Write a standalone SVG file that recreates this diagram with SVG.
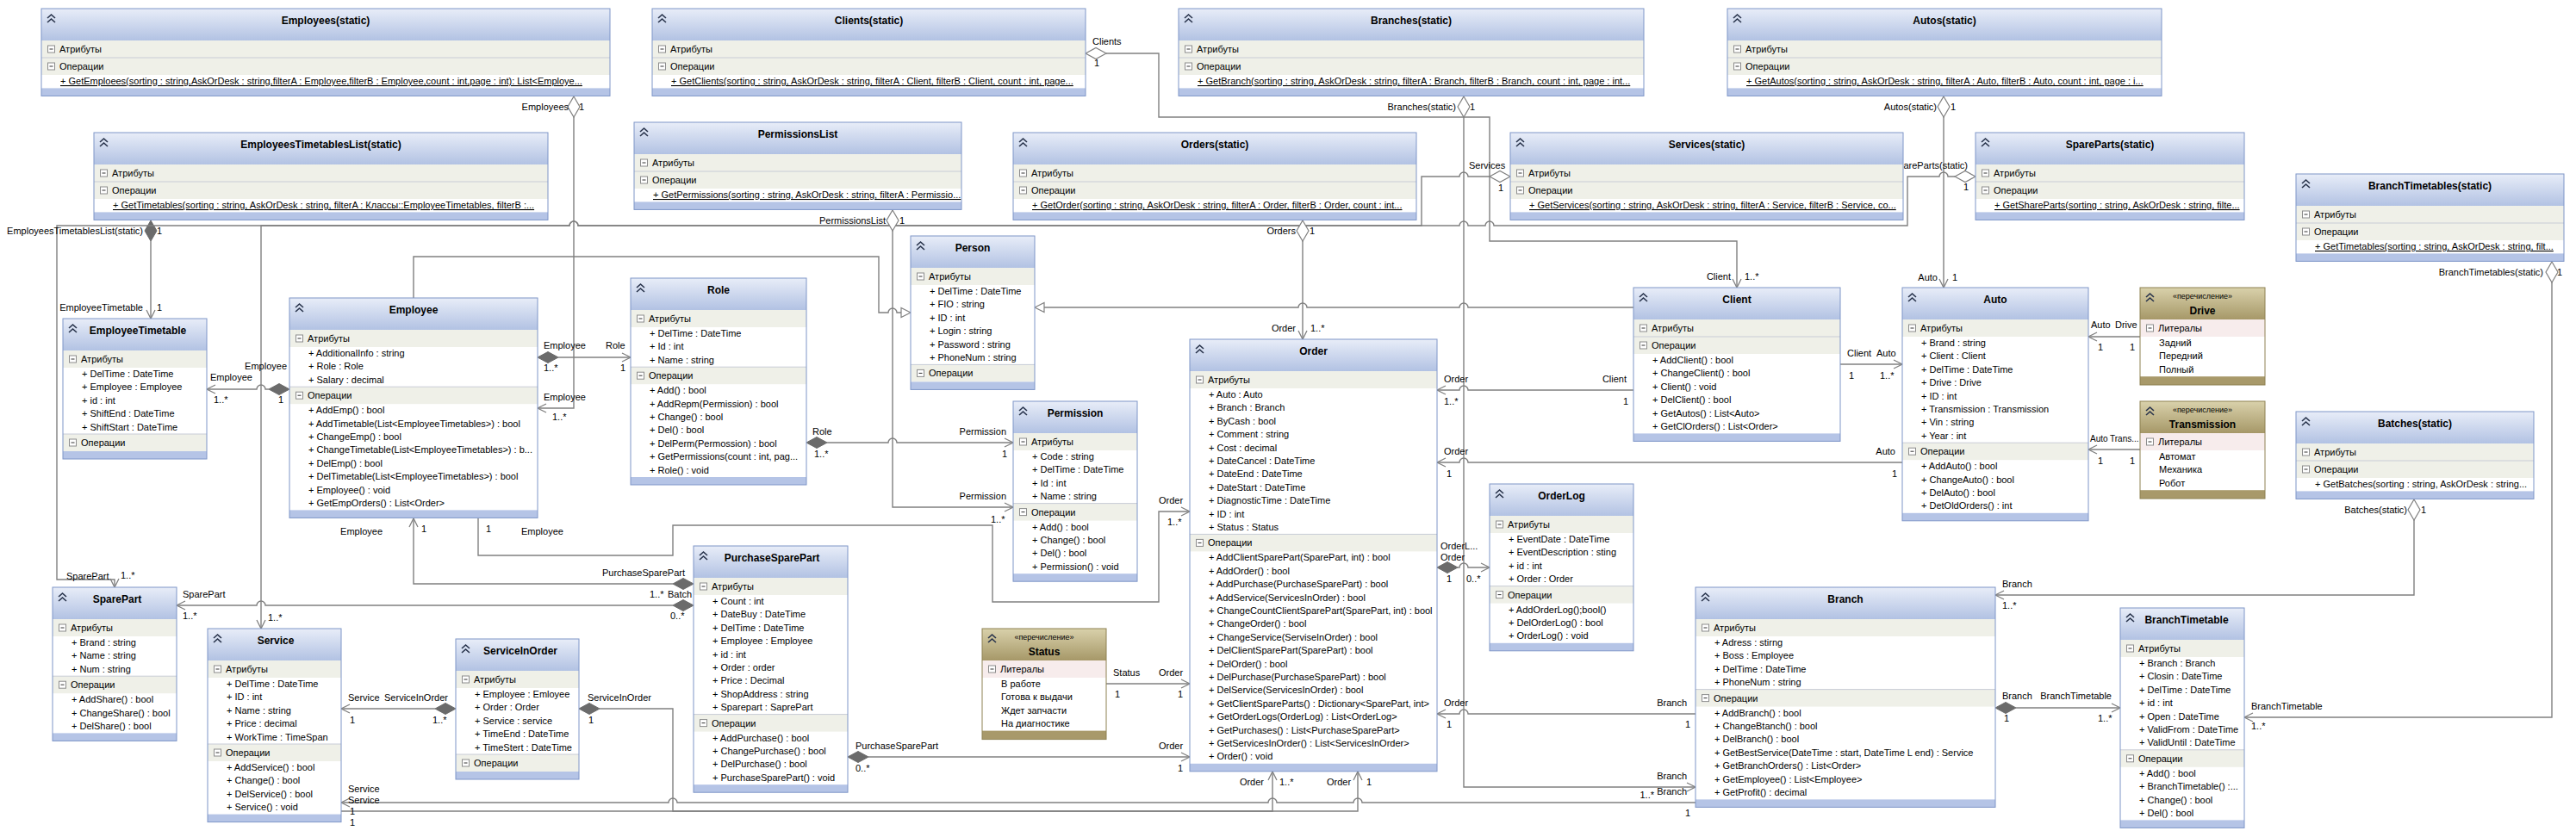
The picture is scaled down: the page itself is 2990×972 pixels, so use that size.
<svg xmlns="http://www.w3.org/2000/svg" xmlns:xlink="http://www.w3.org/1999/xlink" width="2990" height="972" viewBox="0 0 2990 972">
<style>
.bg{fill:#fff}
.hd{fill:url(#gh)}
.rw{fill:#eff0e8}
.bar{fill:#b5c4e6}
.fr{fill:none;stroke:#7f96c8;stroke-width:1}
.sep{stroke:#c8ccd6;stroke-width:1}
.ehd{fill:url(#ge)}
.erw{fill:#f7ecec}
.ebar{fill:#a8996a}
.efr{fill:none;stroke:#8e8152;stroke-width:1}
text{font-family:"Liberation Sans",Arial,sans-serif;font-size:11px;fill:#000}
.t{font-weight:bold;font-size:12px;text-anchor:middle}
.st{font-size:9px;text-anchor:middle}
.u{text-decoration:underline}
.e{text-anchor:end}
.s10{font-size:10px}
.cn{fill:none;stroke:#808080;stroke-width:1.4}
.dh{fill:#fff;stroke:#808080;stroke-width:1.2}
.df{fill:#6b6b6b;stroke:#6b6b6b;stroke-width:1}
</style>
<defs>
<linearGradient id="gh" x1="0" y1="0" x2="0" y2="1"><stop offset="0" stop-color="#e8edf8"/><stop offset="1" stop-color="#b2c2e3"/></linearGradient>
<linearGradient id="ge" x1="0" y1="0" x2="0" y2="1"><stop offset="0" stop-color="#d9d1ab"/><stop offset="1" stop-color="#a69868"/></linearGradient>
<g id="cv"><path d="M1,6 L5.5,2 L10,6 M1,11 L5.5,7 L10,11" fill="none" stroke="#27324a" stroke-width="1.6"/></g>
<g id="mi"><rect x="0.5" y="0.5" width="8" height="8" fill="#fff" stroke="#8c8c8c"/><line x1="2.5" y1="4.5" x2="6.5" y2="4.5" stroke="#333"/></g>
<marker id="ar" markerWidth="12" markerHeight="12" refX="10" refY="5" orient="auto" markerUnits="userSpaceOnUse" overflow="visible"><path d="M0,0 L10,5 L0,10" fill="none" stroke="#808080" stroke-width="1.3"/></marker>
</defs>
<rect x="0" y="0" width="2990" height="972" fill="#fff"/>

<!-- connectors -->
<g id="connectors">
<path class="cn" d="M666,136 V474 H624" marker-end="url(#ar)"/>
<polygon class="dh" points="666,112 673,124 666,136 659,124"/>
<path class="cn" d="M175,280 V370" marker-end="url(#ar)"/>
<polygon class="df" points="175,256 182,268 175,280 168,268"/>
<path class="cn" d="M312,452 H308 a5,5 0 0 0 -10,0 H240" marker-end="url(#ar)"/>
<polygon class="df" points="336,452 324,445.5 312,452 324,458.5"/>
<path class="cn" d="M648,415 H732" marker-end="url(#ar)"/>
<polygon class="df" points="624,415 636,408.5 648,415 636,421.5"/>
<path class="cn" d="M480,346 V298 H1020 V363 H1031 a5,5 0 0 1 10,0 H1046"/>
<polygon class="dh" points="1057,363 1046,357.5 1046,368.5"/>
<path class="cn" d="M1896,357 H1704 a5,5 0 0 0 -10,0 H1517 a5,5 0 0 0 -10,0 H1212"/>
<polygon class="dh" points="1201,357 1212,351.5 1212,362.5"/>
<path class="cn" d="M1284,62 H1345 V136 H1729 V280 H2016 V334" marker-end="url(#ar)"/>
<polygon class="dh" points="1260,62 1272,55.5 1284,62 1272,68.5"/>
<path class="cn" d="M1699,136 V914 H1968" marker-end="url(#ar)"/>
<polygon class="dh" points="1699,112 1706,124 1699,136 1692,124"/>
<path class="cn" d="M1729,205 H1704 a5,5 0 0 0 -10,0 H1650 V262 H671 a5,5 0 0 0 -10,0 H303 V730" marker-end="url(#ar)"/>
<polygon class="dh" points="1753,205 1741,198.5 1729,205 1741,211.5"/>
<path class="cn" d="M2269,205 H2261 a5,5 0 0 0 -10,0 H2214 V262 H1734 a5,5 0 0 0 -10,0 H1704 a5,5 0 0 0 -10,0 H671 a5,5 0 0 0 -10,0 H66 V673 H133 V682" marker-end="url(#ar)"/>
<polygon class="dh" points="2293,205 2281,198.5 2269,205 2281,211.5"/>
<path class="cn" d="M2256,136 V334" marker-end="url(#ar)"/>
<polygon class="dh" points="2256,112 2263,124 2256,136 2249,124"/>
<path class="cn" d="M1512,280 V394" marker-end="url(#ar)"/>
<polygon class="dh" points="1512,256 1519,268 1512,280 1505,268"/>
<path class="cn" d="M1036,268 V589 H1176" marker-end="url(#ar)"/>
<polygon class="dh" points="1036,244 1043,256 1036,268 1029,256"/>
<path class="cn" d="M960,514 H1031 a5,5 0 0 1 10,0 H1176" marker-end="url(#ar)"/>
<polygon class="df" points="936,514 948,507.5 960,514 948,520.5"/>
<path class="cn" d="M555,602 V645 H781 V610 H1152 V699 H1345 V594 H1381" marker-end="url(#ar)"/>
<path class="cn" d="M781,678 H480 V602" marker-end="url(#ar)"/>
<polygon class="df" points="805,678 793,671.5 781,678 793,684.5"/>
<path class="cn" d="M781,703 H308 a5,5 0 0 0 -10,0 H205" marker-end="url(#ar)"/>
<polygon class="df" points="805,703 793,696.5 781,703 793,709.5"/>
<path class="cn" d="M1008,879 H1381" marker-end="url(#ar)"/>
<polygon class="df" points="984,879 996,872.5 1008,879 996,885.5"/>
<path class="cn" d="M1284,794 H1381" marker-end="url(#ar)"/>
<path class="cn" d="M1896,453 H1704 a5,5 0 0 0 -10,0 H1668" marker-end="url(#ar)"/>
<path class="cn" d="M2208,537 H1704 a5,5 0 0 0 -10,0 H1668" marker-end="url(#ar)"/>
<path class="cn" d="M2136,423 H2208" marker-end="url(#ar)"/>
<path class="cn" d="M2484,391 H2424" marker-end="url(#ar)"/>
<path class="cn" d="M2484,522 H2424" marker-end="url(#ar)"/>
<path class="cn" d="M1692,659 H1694 a5,5 0 0 1 10,0 H1729" marker-end="url(#ar)"/>
<polygon class="df" points="1668,659 1680,652.5 1692,659 1680,665.5"/>
<path class="cn" d="M1968,829 H1704 a5,5 0 0 0 -10,0 H1668" marker-end="url(#ar)"/>
<path class="cn" d="M2802,604 V691 H2316" marker-end="url(#ar)"/>
<polygon class="dh" points="2802,580 2809,592 2802,604 2795,592"/>
<path class="cn" d="M2340,822 H2461" marker-end="url(#ar)"/>
<polygon class="df" points="2316,822 2328,815.5 2340,822 2328,828.5"/>
<path class="cn" d="M2962,328 V833 H2605" marker-end="url(#ar)"/>
<polygon class="dh" points="2962,304 2969,316 2962,328 2955,316"/>
<path class="cn" d="M505,823 H396" marker-end="url(#ar)"/>
<polygon class="df" points="529,823 517,816.5 505,823 517,829.5"/>
<path class="cn" d="M696,823 H781 V942 H1477 V896" marker-end="url(#ar)"/>
<polygon class="df" points="672,823 684,816.5 696,823 684,829.5"/>
<path class="cn" d="M1968,932 H1581 a5,5 0 0 0 -10,0 H1482 a5,5 0 0 0 -10,0 H786 a5,5 0 0 0 -10,0 H396" marker-end="url(#ar)"/>
<path class="cn" d="M396,942 H1576 V896" marker-end="url(#ar)"/>
</g>

<!-- connector labels -->
<g id="connector-labels">
<text class="e" x="660" y="128">Employees</text><text x="672" y="128">1</text>
<text x="631" y="465">Employee</text><text x="641" y="488">1..*</text>
<text class="e" x="166" y="272">EmployeesTimetablesList(static)</text><text x="182" y="272">1</text>
<text class="e" x="166" y="361">EmployeeTimetable</text><text x="182" y="361">1</text>
<text x="244" y="442">Employee</text><text class="e" x="333" y="429">Employee</text>
<text x="248" y="468">1..*</text><text x="323" y="468">1</text>
<text x="631" y="405">Employee</text><text x="703" y="405">Role</text>
<text x="631" y="431">1..*</text><text x="720" y="431">1</text>
<text x="1268" y="52">Clients</text><text x="1270" y="77">1</text>
<text class="e" x="2009" y="325">Client</text><text x="2025" y="325">1..*</text>
<text class="e" x="1690" y="128">Branches(static)</text><text x="1706" y="128">1</text>
<text class="e" x="1958" y="905">Branch</text><text class="e" x="1920" y="927">1..*</text>
<text x="1705" y="196">Services</text><text x="1739" y="222">1</text>
<text x="311" y="721">1..*</text>
<text class="e" x="2284" y="196">ShareParts(static)</text><text x="2279" y="221">1</text>
<text x="77" y="673">SparePart</text><text x="140" y="672">1..*</text>
<text class="e" x="2248" y="128">Autos(static)</text><text x="2264" y="128">1</text>
<text class="e" x="2249" y="326">Auto</text><text x="2266" y="326">1</text>
<text class="e" x="1504" y="272">Orders</text><text x="1520" y="272">1</text>
<text class="e" x="1504" y="385">Order</text><text x="1521" y="385">1..*</text>
<text class="e" x="1028" y="260">PermissionsList</text><text x="1044" y="260">1</text>
<text class="e" x="1168" y="580">Permission</text><text x="1150" y="607">1..*</text>
<text x="943" y="505">Role</text><text x="945" y="531">1..*</text>
<text class="e" x="1168" y="505">Permission</text><text x="1163" y="531">1</text>
<text x="564" y="618">1</text><text x="605" y="621">Employee</text>
<text x="1345" y="585">Order</text><text x="1355" y="610">1..*</text>
<text class="e" x="795" y="669">PurchaseSparePart</text><text x="754" y="694">1..*</text>
<text class="e" x="444" y="621">Employee</text><text x="489" y="618">1</text>
<text x="775" y="694">Batch</text><text x="778" y="719">0..*</text>
<text x="212" y="694">SparePart</text><text x="212" y="719">1..*</text>
<text x="993" y="870">PurchaseSparePart</text><text x="993" y="896">0..*</text>
<text x="1345" y="870">Order</text><text x="1367" y="896">1</text>
<text x="1292" y="785">Status</text><text x="1294" y="810">1</text>
<text x="1345" y="785">Order</text><text x="1367" y="810">1</text>
<text class="e" x="1888" y="444">Client</text><text x="1884" y="470">1</text>
<text x="1676" y="444">Order</text><text x="1676" y="470">1..*</text>
<text class="e" x="2200" y="528">Auto</text><text x="2196" y="554">1</text>
<text x="1676" y="528">Order</text><text x="1679" y="554">1</text>
<text x="2144" y="414">Client</text><text x="2178" y="414">Auto</text>
<text x="2146" y="440">1</text><text x="2182" y="440">1..*</text>
<text x="2427" y="381">Auto</text><text x="2455" y="381">Drive</text>
<text x="2435" y="407">1</text><text x="2472" y="407">1</text>
<text class="s10" x="2426" y="513">Auto</text><text class="s10" x="2449" y="513">Trans...</text>
<text x="2435" y="539">1</text><text x="2472" y="539">1</text>
<text x="1672" y="651">Order</text><text x="1672" y="638">OrderL...</text>
<text x="1679" y="676">1</text><text x="1702" y="676">0..*</text>
<text class="e" x="1958" y="820">Branch</text><text x="1956" y="845">1</text>
<text x="1676" y="820">Order</text><text x="1679" y="845">1</text>
<text class="e" x="2794" y="596">Batches(static)</text><text x="2810" y="596">1</text>
<text x="2324" y="682">Branch</text><text x="2324" y="707">1..*</text>
<text x="2324" y="812">Branch</text><text x="2326" y="838">1</text>
<text class="e" x="2451" y="812">BranchTimetable</text><text x="2435" y="838">1..*</text>
<text class="e" x="2952" y="320">BranchTimetables(static)</text><text x="2968" y="320">1</text>
<text x="2613" y="824">BranchTimetable</text><text x="2613" y="847">1..*</text>
<text x="404" y="814">Service</text><text x="406" y="840">1</text>
<text class="e" x="520" y="814">ServiceInOrder</text><text x="502" y="840">1..*</text>
<text x="682" y="814">ServiceInOrder</text><text x="683" y="840">1</text>
<text class="e" x="1467" y="912">Order</text><text x="1485" y="912">1..*</text>
<text x="404" y="920">Service</text><text x="406" y="946">1</text>
<text class="e" x="1958" y="923">Branch</text><text x="1956" y="948">1</text>
<text x="404" y="933">Service</text><text x="406" y="959">1</text>
<text x="1540" y="912">Order</text><text x="1586" y="912">1</text>
</g>

<!-- static classes -->
<g id="employees-static">
<rect class="bg" x="48" y="10" width="660" height="101.4"/><rect class="hd" x="48" y="10" width="660" height="37"/>
<rect class="rw" x="48" y="47" width="660" height="40"/><line class="sep" x1="48" y1="67" x2="708" y2="67"/>
<rect class="bar" x="48" y="102.4" width="660" height="9"/><rect class="fr" x="48" y="10" width="660" height="101.4"/>
<use href="#cv" x="54" y="15"/><text class="t" x="378" y="28">Employees(static)</text>
<use href="#mi" x="55" y="52.5"/><text x="69" y="61">Атрибуты</text>
<use href="#mi" x="55" y="72.5"/><text x="69" y="81">Операции</text>
<text class="u" x="70" y="98">+ GetEmploees(sorting : string,AskOrDesk : string,filterA : Employee,filterB : Employee,count : int,page : int): List&lt;Employe...</text>
</g>
<g id="clients-static">
<rect class="bg" x="757" y="10" width="503" height="101.4"/><rect class="hd" x="757" y="10" width="503" height="37"/>
<rect class="rw" x="757" y="47" width="503" height="40"/><line class="sep" x1="757" y1="67" x2="1260" y2="67"/>
<rect class="bar" x="757" y="102.4" width="503" height="9"/><rect class="fr" x="757" y="10" width="503" height="101.4"/>
<use href="#cv" x="763" y="15"/><text class="t" x="1008.5" y="28">Clients(static)</text>
<use href="#mi" x="764" y="52.5"/><text x="778" y="61">Атрибуты</text>
<use href="#mi" x="764" y="72.5"/><text x="778" y="81">Операции</text>
<text class="u" x="779" y="98">+ GetClients(sorting : string, AskOrDesk : string, filterA : Client, filterB : Client, count : int, page...</text>
</g>
<g id="branches-static">
<rect class="bg" x="1368" y="10" width="540" height="101.4"/><rect class="hd" x="1368" y="10" width="540" height="37"/>
<rect class="rw" x="1368" y="47" width="540" height="40"/><line class="sep" x1="1368" y1="67" x2="1908" y2="67"/>
<rect class="bar" x="1368" y="102.4" width="540" height="9"/><rect class="fr" x="1368" y="10" width="540" height="101.4"/>
<use href="#cv" x="1374" y="15"/><text class="t" x="1638" y="28">Branches(static)</text>
<use href="#mi" x="1375" y="52.5"/><text x="1389" y="61">Атрибуты</text>
<use href="#mi" x="1375" y="72.5"/><text x="1389" y="81">Операции</text>
<text class="u" x="1390" y="98">+ GetBranch(sorting : string, AskOrDesk : string, filterA : Branch, filterB : Branch, count : int, page : int...</text>
</g>
<g id="autos-static">
<rect class="bg" x="2005" y="10" width="504" height="101.4"/><rect class="hd" x="2005" y="10" width="504" height="37"/>
<rect class="rw" x="2005" y="47" width="504" height="40"/><line class="sep" x1="2005" y1="67" x2="2509" y2="67"/>
<rect class="bar" x="2005" y="102.4" width="504" height="9"/><rect class="fr" x="2005" y="10" width="504" height="101.4"/>
<use href="#cv" x="2011" y="15"/><text class="t" x="2257" y="28">Autos(static)</text>
<use href="#mi" x="2012" y="52.5"/><text x="2026" y="61">Атрибуты</text>
<use href="#mi" x="2012" y="72.5"/><text x="2026" y="81">Операции</text>
<text class="u" x="2027" y="98">+ GetAutos(sorting : string, AskOrDesk : string, filterA : Auto, filterB : Auto, count : int, page : i...</text>
</g>
<g id="employeestimetableslist-static">
<rect class="bg" x="109" y="154" width="527" height="101.4"/><rect class="hd" x="109" y="154" width="527" height="37"/>
<rect class="rw" x="109" y="191" width="527" height="40"/><line class="sep" x1="109" y1="211" x2="636" y2="211"/>
<rect class="bar" x="109" y="246.4" width="527" height="9"/><rect class="fr" x="109" y="154" width="527" height="101.4"/>
<use href="#cv" x="115" y="159"/><text class="t" x="372.5" y="172">EmployeesTimetablesList(static)</text>
<use href="#mi" x="116" y="196.5"/><text x="130" y="205">Атрибуты</text>
<use href="#mi" x="116" y="216.5"/><text x="130" y="225">Операции</text>
<text class="u" x="131" y="242">+ GetTimetables(sorting : string, AskOrDesk : string, filterA : Классы::EmployeeTimetables, filterB :...</text>
</g>
<g id="permissionslist">
<rect class="bg" x="736" y="142" width="380" height="101.4"/><rect class="hd" x="736" y="142" width="380" height="37"/>
<rect class="rw" x="736" y="179" width="380" height="40"/><line class="sep" x1="736" y1="199" x2="1116" y2="199"/>
<rect class="bar" x="736" y="234.4" width="380" height="9"/><rect class="fr" x="736" y="142" width="380" height="101.4"/>
<use href="#cv" x="742" y="147"/><text class="t" x="926" y="160">PermissionsList</text>
<use href="#mi" x="743" y="184.5"/><text x="757" y="193">Атрибуты</text>
<use href="#mi" x="743" y="204.5"/><text x="757" y="213">Операции</text>
<text class="u" x="758" y="230">+ GetPermissions(sorting : string, AskOrDesk : string, filterA : Permissio...</text>
</g>
<g id="orders-static">
<rect class="bg" x="1176" y="154" width="468" height="101.4"/><rect class="hd" x="1176" y="154" width="468" height="37"/>
<rect class="rw" x="1176" y="191" width="468" height="40"/><line class="sep" x1="1176" y1="211" x2="1644" y2="211"/>
<rect class="bar" x="1176" y="246.4" width="468" height="9"/><rect class="fr" x="1176" y="154" width="468" height="101.4"/>
<use href="#cv" x="1182" y="159"/><text class="t" x="1410" y="172">Orders(static)</text>
<use href="#mi" x="1183" y="196.5"/><text x="1197" y="205">Атрибуты</text>
<use href="#mi" x="1183" y="216.5"/><text x="1197" y="225">Операции</text>
<text class="u" x="1198" y="242">+ GetOrder(sorting : string, AskOrDesk : string, filterA : Order, filterB : Order, count : int...</text>
</g>
<g id="services-static">
<rect class="bg" x="1753" y="154" width="456" height="101.4"/><rect class="hd" x="1753" y="154" width="456" height="37"/>
<rect class="rw" x="1753" y="191" width="456" height="40"/><line class="sep" x1="1753" y1="211" x2="2209" y2="211"/>
<rect class="bar" x="1753" y="246.4" width="456" height="9"/><rect class="fr" x="1753" y="154" width="456" height="101.4"/>
<use href="#cv" x="1759" y="159"/><text class="t" x="1981" y="172">Services(static)</text>
<use href="#mi" x="1760" y="196.5"/><text x="1774" y="205">Атрибуты</text>
<use href="#mi" x="1760" y="216.5"/><text x="1774" y="225">Операции</text>
<text class="u" x="1775" y="242">+ GetServices(sorting : string, AskOrDesk : string, filterA : Service, filterB : Service, co...</text>
</g>
<g id="spareparts-static">
<rect class="bg" x="2293" y="154" width="312" height="101.4"/><rect class="hd" x="2293" y="154" width="312" height="37"/>
<rect class="rw" x="2293" y="191" width="312" height="40"/><line class="sep" x1="2293" y1="211" x2="2605" y2="211"/>
<rect class="bar" x="2293" y="246.4" width="312" height="9"/><rect class="fr" x="2293" y="154" width="312" height="101.4"/>
<use href="#cv" x="2299" y="159"/><text class="t" x="2449" y="172">SpareParts(static)</text>
<use href="#mi" x="2300" y="196.5"/><text x="2314" y="205">Атрибуты</text>
<use href="#mi" x="2300" y="216.5"/><text x="2314" y="225">Операции</text>
<text class="u" x="2315" y="242">+ GetShareParts(sorting : string, AskOrDesk : string, filte...</text>
</g>
<g id="branchtimetables-static">
<rect class="bg" x="2665" y="202" width="311" height="101.4"/><rect class="hd" x="2665" y="202" width="311" height="37"/>
<rect class="rw" x="2665" y="239" width="311" height="40"/><line class="sep" x1="2665" y1="259" x2="2976" y2="259"/>
<rect class="bar" x="2665" y="294.4" width="311" height="9"/><rect class="fr" x="2665" y="202" width="311" height="101.4"/>
<use href="#cv" x="2671" y="207"/><text class="t" x="2820.5" y="220">BranchTimetables(static)</text>
<use href="#mi" x="2672" y="244.5"/><text x="2686" y="253">Атрибуты</text>
<use href="#mi" x="2672" y="264.5"/><text x="2686" y="273">Операции</text>
<text class="u" x="2687" y="290">+ GetTimetables(sorting : string, AskOrDesk : string, filt...</text>
</g>
<g id="batches-static">
<rect class="bg" x="2665" y="478" width="276" height="101.4"/><rect class="hd" x="2665" y="478" width="276" height="37"/>
<rect class="rw" x="2665" y="515" width="276" height="40"/><line class="sep" x1="2665" y1="535" x2="2941" y2="535"/>
<rect class="bar" x="2665" y="570.4" width="276" height="9"/><rect class="fr" x="2665" y="478" width="276" height="101.4"/>
<use href="#cv" x="2671" y="483"/><text class="t" x="2803" y="496">Batches(static)</text>
<use href="#mi" x="2672" y="520.5"/><text x="2686" y="529">Атрибуты</text>
<use href="#mi" x="2672" y="540.5"/><text x="2686" y="549">Операции</text>
<text x="2687" y="566">+ GetBatches(sorting : string, AskOrDesk : string...</text>
</g>

<!-- entity classes -->
<g id="person">
<rect class="bg" x="1057" y="274" width="144" height="178.4"/><rect class="hd" x="1057" y="274" width="144" height="37"/>
<rect class="rw" x="1057" y="311" width="144" height="20"/><rect class="rw" x="1057" y="423.4" width="144" height="20"/>
<line class="sep" x1="1057" y1="423.4" x2="1201" y2="423.4"/>
<rect class="bar" x="1057" y="443.4" width="144" height="9"/><rect class="fr" x="1057" y="274" width="144" height="178.4"/>
<use href="#cv" x="1063" y="279"/><text class="t" x="1129" y="292">Person</text>
<use href="#mi" x="1064" y="316.5"/><text x="1078" y="325">Атрибуты</text>
<text x="1079" y="342">+ DelTime : DateTime</text>
<text x="1079" y="357.4">+ FIO : string</text>
<text x="1079" y="372.8">+ ID : int</text>
<text x="1079" y="388.2">+ Login : string</text>
<text x="1079" y="403.6">+ Password : string</text>
<text x="1079" y="419">+ PhoneNum : string</text>
<use href="#mi" x="1064" y="428.9"/><text x="1078" y="437.4">Операции</text>
</g>
<g id="employee">
<rect class="bg" x="336" y="346" width="288" height="255.4"/><rect class="hd" x="336" y="346" width="288" height="37"/>
<rect class="rw" x="336" y="383" width="288" height="20"/><rect class="rw" x="336" y="449.2" width="288" height="20"/>
<line class="sep" x1="336" y1="449.2" x2="624" y2="449.2"/>
<rect class="bar" x="336" y="592.4" width="288" height="9"/><rect class="fr" x="336" y="346" width="288" height="255.4"/>
<use href="#cv" x="342" y="351"/><text class="t" x="480" y="364">Employee</text>
<use href="#mi" x="343" y="388.5"/><text x="357" y="397">Атрибуты</text>
<text x="358" y="414">+ AdditionalInfo : string</text>
<text x="358" y="429.4">+ Role : Role</text>
<text x="358" y="444.8">+ Salary : decimal</text>
<use href="#mi" x="343" y="454.7"/><text x="357" y="463.2">Операции</text>
<text x="358" y="480.2">+ AddEmp() : bool</text>
<text x="358" y="495.6">+ AddTimetable(List&lt;EmployeeTimetables&gt;) : bool</text>
<text x="358" y="511">+ ChangeEmp() : bool</text>
<text x="358" y="526.4">+ ChangeTimetable(List&lt;EmployeeTimetables&gt;) : b...</text>
<text x="358" y="541.8">+ DelEmp() : bool</text>
<text x="358" y="557.2">+ DelTimetable(List&lt;EmployeeTimetables&gt;) : bool</text>
<text x="358" y="572.6">+ Employee() : void</text>
<text x="358" y="588">+ GetEmpOrders() : List&lt;Order&gt;</text>
</g>
<g id="employeetimetable">
<rect class="bg" x="73" y="370" width="167" height="163"/><rect class="hd" x="73" y="370" width="167" height="37"/>
<rect class="rw" x="73" y="407" width="167" height="20"/><rect class="rw" x="73" y="504" width="167" height="20"/>
<line class="sep" x1="73" y1="504" x2="240" y2="504"/>
<rect class="bar" x="73" y="524" width="167" height="9"/><rect class="fr" x="73" y="370" width="167" height="163"/>
<use href="#cv" x="79" y="375"/><text class="t" x="160" y="388">EmployeeTimetable</text>
<use href="#mi" x="80" y="412.5"/><text x="94" y="421">Атрибуты</text>
<text x="95" y="438">+ DelTime : DateTime</text>
<text x="95" y="453.4">+ Employee : Employee</text>
<text x="95" y="468.8">+ id : int</text>
<text x="95" y="484.2">+ ShiftEnd : DateTime</text>
<text x="95" y="499.6">+ ShiftStart : DateTime</text>
<use href="#mi" x="80" y="509.5"/><text x="94" y="518">Операции</text>
</g>
<g id="role">
<rect class="bg" x="732" y="323" width="204" height="240"/><rect class="hd" x="732" y="323" width="204" height="37"/>
<rect class="rw" x="732" y="360" width="204" height="20"/><rect class="rw" x="732" y="426.2" width="204" height="20"/>
<line class="sep" x1="732" y1="426.2" x2="936" y2="426.2"/>
<rect class="bar" x="732" y="554" width="204" height="9"/><rect class="fr" x="732" y="323" width="204" height="240"/>
<use href="#cv" x="738" y="328"/><text class="t" x="834" y="341">Role</text>
<use href="#mi" x="739" y="365.5"/><text x="753" y="374">Атрибуты</text>
<text x="754" y="391">+ DelTime : DateTime</text>
<text x="754" y="406.4">+ Id : int</text>
<text x="754" y="421.8">+ Name : string</text>
<use href="#mi" x="739" y="431.7"/><text x="753" y="440.2">Операции</text>
<text x="754" y="457.2">+ Add() : bool</text>
<text x="754" y="472.6">+ AddRepm(Permission) : bool</text>
<text x="754" y="488">+ Change() : bool</text>
<text x="754" y="503.4">+ Del() : bool</text>
<text x="754" y="518.8">+ DelPerm(Permossion) : bool</text>
<text x="754" y="534.2">+ GetPermissions(count : int, pag...</text>
<text x="754" y="549.6">+ Role() : void</text>
</g>
<g id="permission">
<rect class="bg" x="1176" y="466" width="144" height="209.2"/><rect class="hd" x="1176" y="466" width="144" height="37"/>
<rect class="rw" x="1176" y="503" width="144" height="20"/><rect class="rw" x="1176" y="584.6" width="144" height="20"/>
<line class="sep" x1="1176" y1="584.6" x2="1320" y2="584.6"/>
<rect class="bar" x="1176" y="666.2" width="144" height="9"/><rect class="fr" x="1176" y="466" width="144" height="209.2"/>
<use href="#cv" x="1182" y="471"/><text class="t" x="1248" y="484">Permission</text>
<use href="#mi" x="1183" y="508.5"/><text x="1197" y="517">Атрибуты</text>
<text x="1198" y="534">+ Code : string</text>
<text x="1198" y="549.4">+ DelTime : DateTime</text>
<text x="1198" y="564.8">+ Id : int</text>
<text x="1198" y="580.2">+ Name : string</text>
<use href="#mi" x="1183" y="590.1"/><text x="1197" y="598.6">Операции</text>
<text x="1198" y="615.6">+ Add() : bool</text>
<text x="1198" y="631">+ Change() : bool</text>
<text x="1198" y="646.4">+ Del() : bool</text>
<text x="1198" y="661.8">+ Permission() : void</text>
</g>
<g id="client">
<rect class="bg" x="1896" y="334" width="240" height="178.4"/><rect class="hd" x="1896" y="334" width="240" height="37"/>
<rect class="rw" x="1896" y="371" width="240" height="40"/>
<line class="sep" x1="1896" y1="391" x2="2136" y2="391"/>
<rect class="bar" x="1896" y="503.4" width="240" height="9"/><rect class="fr" x="1896" y="334" width="240" height="178.4"/>
<use href="#cv" x="1902" y="339"/><text class="t" x="2016" y="352">Client</text>
<use href="#mi" x="1903" y="376.5"/><text x="1917" y="385">Атрибуты</text>
<use href="#mi" x="1903" y="396.5"/><text x="1917" y="405">Операции</text>
<text x="1918" y="422">+ AddClient() : bool</text>
<text x="1918" y="437.4">+ ChangeClient() : bool</text>
<text x="1918" y="452.8">+ Client() : void</text>
<text x="1918" y="468.2">+ DelClient() : bool</text>
<text x="1918" y="483.6">+ GetAutos() : List&lt;Auto&gt;</text>
<text x="1918" y="499">+ GetClOrders() : List&lt;Order&gt;</text>
</g>
<g id="auto">
<rect class="bg" x="2208" y="334" width="216" height="270.8"/><rect class="hd" x="2208" y="334" width="216" height="37"/>
<rect class="rw" x="2208" y="371" width="216" height="20"/><rect class="rw" x="2208" y="514.2" width="216" height="20"/>
<line class="sep" x1="2208" y1="514.2" x2="2424" y2="514.2"/>
<rect class="bar" x="2208" y="595.8" width="216" height="9"/><rect class="fr" x="2208" y="334" width="216" height="270.8"/>
<use href="#cv" x="2214" y="339"/><text class="t" x="2316" y="352">Auto</text>
<use href="#mi" x="2215" y="376.5"/><text x="2229" y="385">Атрибуты</text>
<text x="2230" y="402">+ Brand : string</text>
<text x="2230" y="417.4">+ Client : Client</text>
<text x="2230" y="432.8">+ DelTime : DateTime</text>
<text x="2230" y="448.2">+ Drive : Drive</text>
<text x="2230" y="463.6">+ ID : int</text>
<text x="2230" y="479">+ Transmission : Transmission</text>
<text x="2230" y="494.4">+ Vin : string</text>
<text x="2230" y="509.8">+ Year : int</text>
<use href="#mi" x="2215" y="519.7"/><text x="2229" y="528.2">Операции</text>
<text x="2230" y="545.2">+ AddAuto() : bool</text>
<text x="2230" y="560.6">+ ChangeAuto() : bool</text>
<text x="2230" y="576">+ DelAuto() : bool</text>
<text x="2230" y="591.4">+ DetOldOrders() : int</text>
</g>
<g id="drive">
<rect class="bg" x="2484" y="334" width="145" height="113"/><rect class="ehd" x="2484" y="334" width="145" height="37"/>
<rect class="erw" x="2484" y="371" width="145" height="20"/>
<rect class="ebar" x="2484" y="437.2" width="145" height="9.8"/><rect class="efr" x="2484" y="334" width="145" height="113"/>
<use href="#cv" x="2490" y="339"/>
<text class="st" x="2556.5" y="347">«перечисление»</text><text class="t" x="2556.5" y="365">Drive</text>
<use href="#mi" x="2491" y="376.5"/><text x="2505" y="385">Литералы</text>
<text x="2506" y="402">Задний</text>
<text x="2506" y="417.4">Передний</text>
<text x="2506" y="432.8">Полный</text>
</g>
<g id="transmission">
<rect class="bg" x="2484" y="466" width="145" height="113"/><rect class="ehd" x="2484" y="466" width="145" height="37"/>
<rect class="erw" x="2484" y="503" width="145" height="20"/>
<rect class="ebar" x="2484" y="569.2" width="145" height="9.8"/><rect class="efr" x="2484" y="466" width="145" height="113"/>
<use href="#cv" x="2490" y="471"/>
<text class="st" x="2556.5" y="479">«перечисление»</text><text class="t" x="2556.5" y="497">Transmission</text>
<use href="#mi" x="2491" y="508.5"/><text x="2505" y="517">Литералы</text>
<text x="2506" y="534">Автомат</text>
<text x="2506" y="549.4">Механика</text>
<text x="2506" y="564.8">Робот</text>
</g>
<g id="order">
<rect class="bg" x="1381" y="394" width="287" height="501.8"/><rect class="hd" x="1381" y="394" width="287" height="37"/>
<rect class="rw" x="1381" y="431" width="287" height="20"/><rect class="rw" x="1381" y="620.4" width="287" height="20"/>
<line class="sep" x1="1381" y1="620.4" x2="1668" y2="620.4"/>
<rect class="bar" x="1381" y="886.8" width="287" height="9"/><rect class="fr" x="1381" y="394" width="287" height="501.8"/>
<use href="#cv" x="1387" y="399"/><text class="t" x="1524.5" y="412">Order</text>
<use href="#mi" x="1388" y="436.5"/><text x="1402" y="445">Атрибуты</text>
<text x="1403" y="462">+ Auto : Auto</text>
<text x="1403" y="477.4">+ Branch : Branch</text>
<text x="1403" y="492.8">+ ByCash : bool</text>
<text x="1403" y="508.2">+ Comment : string</text>
<text x="1403" y="523.6">+ Cost : decimal</text>
<text x="1403" y="539">+ DateCancel : DateTime</text>
<text x="1403" y="554.4">+ DateEnd : DateTime</text>
<text x="1403" y="569.8">+ DateStart : DateTime</text>
<text x="1403" y="585.2">+ DiagnosticTime : DateTime</text>
<text x="1403" y="600.6">+ ID : int</text>
<text x="1403" y="616">+ Status : Status</text>
<use href="#mi" x="1388" y="625.9"/><text x="1402" y="634.4">Операции</text>
<text x="1403" y="651.4">+ AddClientSparePart(SparePart, int) : bool</text>
<text x="1403" y="666.8">+ AddOrder() : bool</text>
<text x="1403" y="682.2">+ AddPurchase(PurchaseSparePart) : bool</text>
<text x="1403" y="697.6">+ AddService(ServicesInOrder) : bool</text>
<text x="1403" y="713">+ ChangeCountClientSparePart(SparePart, int) : bool</text>
<text x="1403" y="728.4">+ ChangeOrder() : bool</text>
<text x="1403" y="743.8">+ ChangeService(ServiseInOrder) : bool</text>
<text x="1403" y="759.2">+ DelClientSparePart(SparePart) : bool</text>
<text x="1403" y="774.6">+ DelOrder() : bool</text>
<text x="1403" y="790">+ DelPurchase(PurchaseSparePart) : bool</text>
<text x="1403" y="805.4">+ DelService(ServicesInOrder) : bool</text>
<text x="1403" y="820.8">+ GetClientSpareParts() : Dictionary&lt;SparePart, int&gt;</text>
<text x="1403" y="836.2">+ GetOrderLogs(OrderLog) : List&lt;OrderLog&gt;</text>
<text x="1403" y="851.6">+ GetPurchases() : List&lt;PurchaseSparePart&gt;</text>
<text x="1403" y="867">+ GetServicesInOrder() : List&lt;ServicesInOrder&gt;</text>
<text x="1403" y="882.4">+ Order() : void</text>
</g>
<g id="orderlog">
<rect class="bg" x="1729" y="562" width="167" height="193.8"/><rect class="hd" x="1729" y="562" width="167" height="37"/>
<rect class="rw" x="1729" y="599" width="167" height="20"/><rect class="rw" x="1729" y="680.6" width="167" height="20"/>
<line class="sep" x1="1729" y1="680.6" x2="1896" y2="680.6"/>
<rect class="bar" x="1729" y="746.8" width="167" height="9"/><rect class="fr" x="1729" y="562" width="167" height="193.8"/>
<use href="#cv" x="1735" y="567"/><text class="t" x="1812.5" y="580">OrderLog</text>
<use href="#mi" x="1736" y="604.5"/><text x="1750" y="613">Атрибуты</text>
<text x="1751" y="630">+ EventDate : DateTime</text>
<text x="1751" y="645.4">+ EventDescription : sting</text>
<text x="1751" y="660.8">+ id : int</text>
<text x="1751" y="676.2">+ Order : Order</text>
<use href="#mi" x="1736" y="686.1"/><text x="1750" y="694.6">Операции</text>
<text x="1751" y="711.6">+ AddOrderLog();bool()</text>
<text x="1751" y="727">+ DelOrderLog() : bool</text>
<text x="1751" y="742.4">+ OrderLog() : void</text>
</g>
<g id="branch">
<rect class="bg" x="1968" y="682" width="348" height="255.4"/><rect class="hd" x="1968" y="682" width="348" height="37"/>
<rect class="rw" x="1968" y="719" width="348" height="20"/><rect class="rw" x="1968" y="800.6" width="348" height="20"/>
<line class="sep" x1="1968" y1="800.6" x2="2316" y2="800.6"/>
<rect class="bar" x="1968" y="928.4" width="348" height="9"/><rect class="fr" x="1968" y="682" width="348" height="255.4"/>
<use href="#cv" x="1974" y="687"/><text class="t" x="2142" y="700">Branch</text>
<use href="#mi" x="1975" y="724.5"/><text x="1989" y="733">Атрибуты</text>
<text x="1990" y="750">+ Adress : stirng</text>
<text x="1990" y="765.4">+ Boss : Employee</text>
<text x="1990" y="780.8">+ DelTime : DateTime</text>
<text x="1990" y="796.2">+ PhoneNum : string</text>
<use href="#mi" x="1975" y="806.1"/><text x="1989" y="814.6">Операции</text>
<text x="1990" y="831.6">+ AddBranch() : bool</text>
<text x="1990" y="847">+ ChangeBtanch() : bool</text>
<text x="1990" y="862.4">+ DelBranch() : bool</text>
<text x="1990" y="877.8">+ GetBestService(DateTime : start, DateTime L end) : Service</text>
<text x="1990" y="893.2">+ GetBranchOrders() : List&lt;Order&gt;</text>
<text x="1990" y="908.6">+ GetEmployee() : List&lt;Employee&gt;</text>
<text x="1990" y="924">+ GetProfit() : decimal</text>
</g>
<g id="branchtimetable">
<rect class="bg" x="2461" y="706" width="144" height="255.4"/><rect class="hd" x="2461" y="706" width="144" height="37"/>
<rect class="rw" x="2461" y="743" width="144" height="20"/><rect class="rw" x="2461" y="870.8" width="144" height="20"/>
<line class="sep" x1="2461" y1="870.8" x2="2605" y2="870.8"/>
<rect class="bar" x="2461" y="952.4" width="144" height="9"/><rect class="fr" x="2461" y="706" width="144" height="255.4"/>
<use href="#cv" x="2467" y="711"/><text class="t" x="2538" y="724">BranchTimetable</text>
<use href="#mi" x="2468" y="748.5"/><text x="2482" y="757">Атрибуты</text>
<text x="2483" y="774">+ Branch : Branch</text>
<text x="2483" y="789.4">+ Closin : DateTime</text>
<text x="2483" y="804.8">+ DelTime : DateTime</text>
<text x="2483" y="820.2">+ id : int</text>
<text x="2483" y="835.6">+ Open : DateTime</text>
<text x="2483" y="851">+ ValidFrom : DateTime</text>
<text x="2483" y="866.4">+ ValidUntil : DateTime</text>
<use href="#mi" x="2468" y="876.3"/><text x="2482" y="884.8">Операции</text>
<text x="2483" y="901.8">+ Add() : bool</text>
<text x="2483" y="917.2">+ BranchTimetable() :...</text>
<text x="2483" y="932.6">+ Change() : bool</text>
<text x="2483" y="948">+ Del() : bool</text>
</g>
<g id="sparepart">
<rect class="bg" x="61" y="682" width="144" height="178.4"/><rect class="hd" x="61" y="682" width="144" height="37"/>
<rect class="rw" x="61" y="719" width="144" height="20"/><rect class="rw" x="61" y="785.2" width="144" height="20"/>
<line class="sep" x1="61" y1="785.2" x2="205" y2="785.2"/>
<rect class="bar" x="61" y="851.4" width="144" height="9"/><rect class="fr" x="61" y="682" width="144" height="178.4"/>
<use href="#cv" x="67" y="687"/><text class="t" x="136" y="700">SparePart</text>
<use href="#mi" x="68" y="724.5"/><text x="82" y="733">Атрибуты</text>
<text x="83" y="750">+ Brand : string</text>
<text x="83" y="765.4">+ Name : string</text>
<text x="83" y="780.8">+ Num : string</text>
<use href="#mi" x="68" y="790.7"/><text x="82" y="799.2">Операции</text>
<text x="83" y="816.2">+ AddShare() : bool</text>
<text x="83" y="831.6">+ ChangeShare() : bool</text>
<text x="83" y="847">+ DelShare() : bool</text>
</g>
<g id="service">
<rect class="bg" x="241" y="730" width="155" height="224.6"/><rect class="hd" x="241" y="730" width="155" height="37"/>
<rect class="rw" x="241" y="767" width="155" height="20"/><rect class="rw" x="241" y="864" width="155" height="20"/>
<line class="sep" x1="241" y1="864" x2="396" y2="864"/>
<rect class="bar" x="241" y="945.6" width="155" height="9"/><rect class="fr" x="241" y="730" width="155" height="224.6"/>
<use href="#cv" x="247" y="735"/><text class="t" x="320" y="748">Service</text>
<use href="#mi" x="248" y="772.5"/><text x="262" y="781">Атрибуты</text>
<text x="263" y="798">+ DelTime : DateTime</text>
<text x="263" y="813.4">+ ID : int</text>
<text x="263" y="828.8">+ Name : string</text>
<text x="263" y="844.2">+ Price : decimal</text>
<text x="263" y="859.6">+ WorkTime : TimeSpan</text>
<use href="#mi" x="248" y="869.5"/><text x="262" y="878">Операции</text>
<text x="263" y="895">+ AddService() : bool</text>
<text x="263" y="910.4">+ Change() : bool</text>
<text x="263" y="925.8">+ DelService() : bool</text>
<text x="263" y="941.2">+ Service() : void</text>
</g>
<g id="serviceinorder">
<rect class="bg" x="529" y="742" width="143" height="163"/><rect class="hd" x="529" y="742" width="143" height="37"/>
<rect class="rw" x="529" y="779" width="143" height="20"/><rect class="rw" x="529" y="876" width="143" height="20"/>
<line class="sep" x1="529" y1="876" x2="672" y2="876"/>
<rect class="bar" x="529" y="896" width="143" height="9"/><rect class="fr" x="529" y="742" width="143" height="163"/>
<use href="#cv" x="535" y="747"/><text class="t" x="604" y="760">ServiceInOrder</text>
<use href="#mi" x="536" y="784.5"/><text x="550" y="793">Атрибуты</text>
<text x="551" y="810">+ Employee : Emloyee</text>
<text x="551" y="825.4">+ Order : Order</text>
<text x="551" y="840.8">+ Service : service</text>
<text x="551" y="856.2">+ TimeEnd : DateTime</text>
<text x="551" y="871.6">+ TimeStert : DateTime</text>
<use href="#mi" x="536" y="881.5"/><text x="550" y="890">Операции</text>
</g>
<g id="purchasesparepart">
<rect class="bg" x="805" y="634" width="179" height="286.2"/><rect class="hd" x="805" y="634" width="179" height="37"/>
<rect class="rw" x="805" y="671" width="179" height="20"/><rect class="rw" x="805" y="829.6" width="179" height="20"/>
<line class="sep" x1="805" y1="829.6" x2="984" y2="829.6"/>
<rect class="bar" x="805" y="911.2" width="179" height="9"/><rect class="fr" x="805" y="634" width="179" height="286.2"/>
<use href="#cv" x="811" y="639"/><text class="t" x="896" y="652">PurchaseSparePart</text>
<use href="#mi" x="812" y="676.5"/><text x="826" y="685">Атрибуты</text>
<text x="827" y="702">+ Count : int</text>
<text x="827" y="717.4">+ DateBuy : DateTime</text>
<text x="827" y="732.8">+ DelTime : DateTime</text>
<text x="827" y="748.2">+ Employee : Employee</text>
<text x="827" y="763.6">+ id : int</text>
<text x="827" y="779">+ Order : order</text>
<text x="827" y="794.4">+ Price : Decimal</text>
<text x="827" y="809.8">+ ShopAddress : string</text>
<text x="827" y="825.2">+ Sparepart : SaprePart</text>
<use href="#mi" x="812" y="835.1"/><text x="826" y="843.6">Операции</text>
<text x="827" y="860.6">+ AddPurchase() : bool</text>
<text x="827" y="876">+ ChangePurchase() : bool</text>
<text x="827" y="891.4">+ DelPurchase() : bool</text>
<text x="827" y="906.8">+ PurchaseSparePart() : void</text>
</g>
<g id="status">
<rect class="bg" x="1140" y="730" width="144" height="128.6"/><rect class="ehd" x="1140" y="730" width="144" height="37"/>
<rect class="erw" x="1140" y="767" width="144" height="20"/>
<rect class="ebar" x="1140" y="848.6" width="144" height="10"/><rect class="efr" x="1140" y="730" width="144" height="128.6"/>
<use href="#cv" x="1146" y="735"/>
<text class="st" x="1212" y="743">«перечисление»</text><text class="t" x="1212" y="761">Status</text>
<use href="#mi" x="1147" y="772.5"/><text x="1161" y="781">Литералы</text>
<text x="1162" y="798">В работе</text>
<text x="1162" y="813.4">Готова к выдачи</text>
<text x="1162" y="828.8">Ждет запчасти</text>
<text x="1162" y="844.2">На диагностике</text>
</g>
</svg>
